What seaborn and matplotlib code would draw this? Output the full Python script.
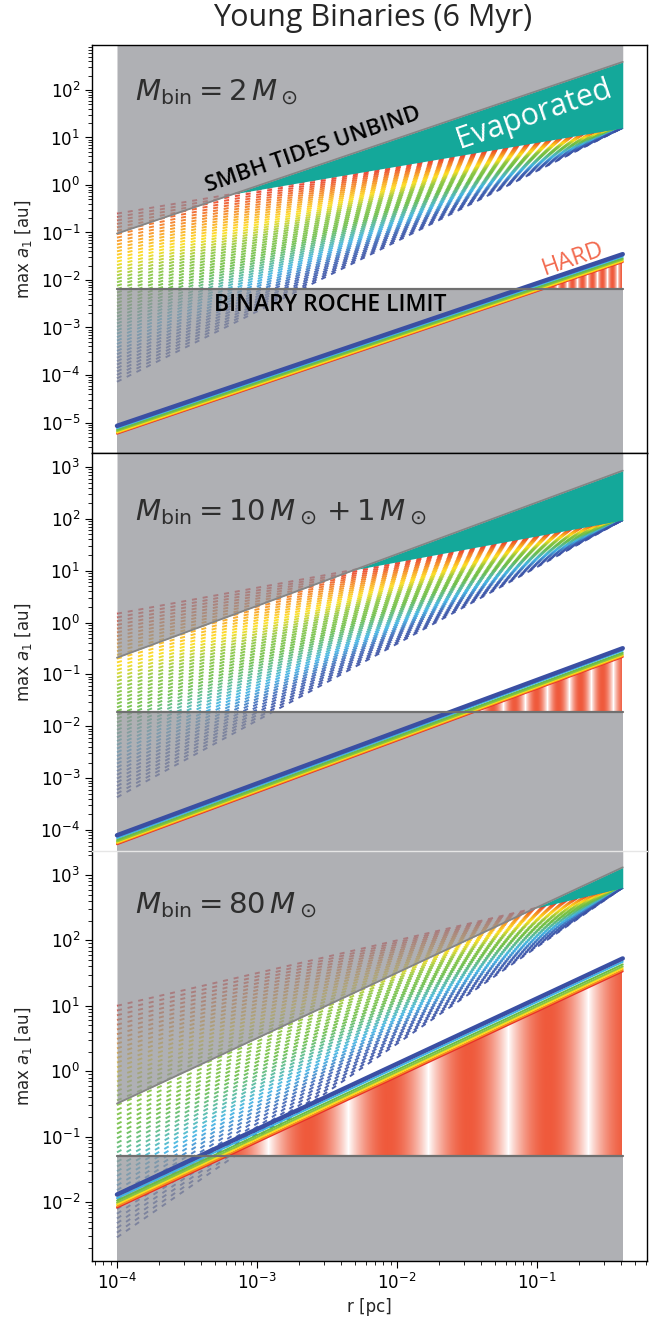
import numpy as np
import pandas as pd
import matplotlib
matplotlib.use("Agg")
import matplotlib.pyplot as plt
import matplotlib.ticker as ticker
from matplotlib import colors
import seaborn as sns

# values
PANEL_LABELS = [
    r"$M_{\rm bin} = 2\,M_\odot$",
    r"$M_{\rm bin} = 10\,M_\odot + 1\,M_\odot$",
    r"$M_{\rm bin} = 80\,M_\odot$",
]
R_MIN = 1e-4
R_MAX = 0.41
# dashed family: log slope of each line (red -> blue), all meet at R_MAX
DASH_SLOPES = [0.50, 0.52, 0.54, 0.56, 0.58, 0.60, 0.62, 0.64, 0.66, 0.68,
               0.70, 0.72, 0.74, 0.76, 0.78, 0.80, 0.82, 0.84, 0.86, 0.88,
               0.90, 0.92, 0.94, 0.96, 0.98, 1.00, 1.02, 1.04, 1.06, 1.08,
               1.10, 1.12, 1.14, 1.16, 1.18, 1.20, 1.22, 1.24, 1.26, 1.28,
               1.30, 1.32, 1.34, 1.36, 1.38, 1.40, 1.42, 1.44, 1.46, 1.48]
DASH_END = [16.0, 95.0, 640.0]
# SMBH tides line at R_MIN / R_MAX
TIDES_LO = [0.095, 0.21, 0.32]
TIDES_HI = [390.0, 850.0, 1310.0]
# binary Roche limit
ROCHE = [6.5e-3, 1.9e-2, 5.1e-2]
# solid bundle (blue -> red) at R_MIN / R_MAX
SOLID_LO = [
    [8.5e-6, 7.6e-6, 7.0e-6, 6.6e-6, 6.2e-6, 6.0e-6, 5.8e-6],
    [7.9e-5, 7.0e-5, 6.4e-5, 6.0e-5, 5.7e-5, 5.5e-5, 5.3e-5],
    [1.3e-2, 1.15e-2, 1.05e-2, 9.8e-3, 9.2e-3, 8.6e-3, 8.2e-3],
]
SOLID_HI = [
    [0.035, 0.031, 0.0287, 0.027, 0.0254, 0.0246, 0.0238],
    [0.32, 0.287, 0.262, 0.246, 0.234, 0.225, 0.217],
    [53.0, 47.0, 43.0, 40.0, 37.7, 35.3, 33.6],
]
SOLID_CPOS = [0.0, 0.25, 0.45, 0.6, 0.72, 0.85, 1.0]
YLIMS = [(10**-5.642, 10**2.947), (10**-4.405, 10**3.27), (10**-2.902, 10**3.367)]
Y_TICKS = [[1e-5, 1e-4, 1e-3, 1e-2, 1e-1, 1e0, 1e1, 1e2],
           [1e-4, 1e-3, 1e-2, 1e-1, 1e0, 1e1, 1e2, 1e3],
           [1e-2, 1e-1, 1e0, 1e1, 1e2, 1e3]]
X_TICKS = [1e-4, 1e-3, 1e-2, 1e-1]
XLIM = (6.63e-5, 0.611)
# stripe pattern of the HARD region (period, phase) in pixels
STRIPES = [(10, 0), (22, 12), (80, 71)]

sns.set_style("ticks")
plt.rcParams["font.family"] = ["DejaVu Sans"]

fan = colors.LinearSegmentedColormap.from_list(
    "fan",
    [(0.0, "#3a4fa3"), (0.12, "#3f63b5"), (0.25, "#3fb4e6"), (0.45, "#6abd45"),
     (0.6, "#8cc63f"), (0.72, "#ffde17"), (0.84, "#f7941d"), (1.0, "#e8302a")],
)
stripe_cmap = colors.LinearSegmentedColormap.from_list("hard", ["#ffffff", "#ef5a3c"])
GRAY = "#919298"
TEAL = "#14a89a"

fig = plt.figure(figsize=(6.6, 13.17), dpi=100)
W, H = 660, 1317
boxes = [(45, 453), (453, 851), (851, 1261)]
axes = []
for top, bot in boxes:
    ax = fig.add_axes([92 / W, 1 - bot / H, 555 / W, (bot - top) / H])
    axes.append(ax)

rgrid = np.geomspace(R_MIN, R_MAX, 800)
n = len(DASH_SLOPES)
dash_colors = [fan(1 - k / (n - 1)) for k in range(n)]
# image columns evenly spaced in r (imshow maps linearly in data)
r_cols = np.linspace(R_MIN, R_MAX, 80000)
px_cols = 140 * np.log10(r_cols / R_MIN)

for i, ax in enumerate(axes):
    ax.set_xscale("log")
    ax.set_yscale("log")
    ylo, yhi = YLIMS[i]

    # dashed family
    rows = []
    for k, s in enumerate(DASH_SLOPES):
        a_lo = DASH_END[i] * (R_MIN / R_MAX) ** s
        rows.append({"r": R_MIN, "a": a_lo, "line": k})
        rows.append({"r": R_MAX, "a": DASH_END[i], "line": k})
    df = pd.DataFrame(rows)
    sns.lineplot(data=df, x="r", y="a", hue="line", palette=dash_colors,
                 legend=False, ax=ax, lw=1.4, linestyle=(0, (2.6, 3.0)),
                 alpha=0.9, zorder=1, estimator=None, sort=False)

    slope_t = np.log(TIDES_HI[i] / TIDES_LO[i]) / np.log(R_MAX / R_MIN)
    tides = TIDES_LO[i] * (rgrid / R_MIN) ** slope_t
    top_dash = DASH_END[i] * (rgrid / R_MAX) ** DASH_SLOPES[0]

    # gray forbidden regions
    ax.fill_between([R_MIN, R_MAX], [TIDES_LO[i], TIDES_HI[i]], [yhi, yhi],
                    color=GRAY, alpha=0.72, lw=0, zorder=2)
    ax.fill_between([R_MIN, R_MAX], [ylo, ylo], [ROCHE[i], ROCHE[i]],
                    color=GRAY, alpha=0.72, lw=0, zorder=2)

    # evaporated
    ax.fill_between(rgrid, top_dash, tides, where=tides > top_dash,
                    interpolate=True, color=TEAL, lw=0, zorder=3)

    # hard region with stripes
    slope_s = np.log(SOLID_HI[i][-1] / SOLID_LO[i][-1]) / np.log(R_MAX / R_MIN)
    low_solid = SOLID_LO[i][-1] * (rgrid / R_MIN) ** slope_s
    hard = ax.fill_between(rgrid, ROCHE[i], low_solid, where=low_solid > ROCHE[i],
                           interpolate=True, facecolor="none", lw=0)
    period, phase = STRIPES[i]
    pattern = np.abs(np.sin(np.pi * (px_cols - phase) / period)) ** 0.9
    im = ax.imshow(pattern[None, :], extent=(R_MIN, R_MAX, ROCHE[i], SOLID_HI[i][-1]),
                   aspect="auto", cmap=stripe_cmap, vmin=0, vmax=1,
                   interpolation="antialiased", zorder=3, origin="lower")
    im.set_clip_path(hard.get_paths()[0], transform=ax.transData)

    # solid bundle, red first so blue sits on top
    for j in range(len(SOLID_LO[i]) - 1, -1, -1):
        lw = 3.2 if j == 0 else 1.4
        sns.lineplot(x=[R_MIN, R_MAX], y=[SOLID_LO[i][j], SOLID_HI[i][j]],
                     color=fan(SOLID_CPOS[j]), lw=lw, ax=ax, zorder=4)

    ax.plot([R_MIN, R_MAX], [TIDES_LO[i], TIDES_HI[i]], color="#858585", lw=1.3, zorder=5)
    ax.plot([R_MIN, R_MAX], [ROCHE[i], ROCHE[i]], color="#707070", lw=1.6, zorder=5)

    ax.set_xlim(*XLIM)
    ax.set_ylim(ylo, yhi)
    ax.yaxis.set_major_locator(ticker.FixedLocator(Y_TICKS[i]))
    ax.yaxis.set_major_formatter(ticker.LogFormatterSciNotation())
    ax.yaxis.set_minor_locator(ticker.LogLocator(base=10, subs=np.arange(2, 10), numticks=30))
    ax.yaxis.set_minor_formatter(ticker.NullFormatter())
    ax.xaxis.set_major_locator(ticker.FixedLocator(X_TICKS))
    ax.xaxis.set_major_formatter(ticker.LogFormatterSciNotation())
    ax.xaxis.set_minor_locator(ticker.LogLocator(base=10, subs=np.arange(2, 10), numticks=30))
    ax.xaxis.set_minor_formatter(ticker.NullFormatter())
    ax.tick_params(axis="both", which="major", labelsize=12, length=5, color="black",
                   labelcolor="black")
    ax.tick_params(axis="both", which="minor", length=3, color="black")
    ax.set_ylabel(r"max $a_1$ [au]", fontsize=12)
    ax.yaxis.set_label_coords(-0.105, 0.5)
    for sp in ax.spines.values():
        sp.set_color("black")
        sp.set_linewidth(1.0)
    if i < 2:
        ax.tick_params(axis="x", which="both", bottom=False, labelbottom=False)
        ax.set_xlabel("")
    ax.text(43 / 555, [0.885, 0.852, 0.868][i], PANEL_LABELS[i], transform=ax.transAxes,
            fontsize=21, color="#2e2e2e", ha="left", va="center", zorder=6)

axes[1].spines["bottom"].set_visible(False)
axes[2].spines["top"].set_color("#e6e6e6")
axes[2].set_xlabel("r [pc]", fontsize=12)

ax = axes[0]
ax.text(0.398, 0.742, "SMBH TIDES UNBIND", transform=ax.transAxes, rotation=19,
        fontsize=16, family="Open Sans", weight="semibold", color="black",
        ha="center", va="center", zorder=6)
ax.text(0.796, 0.830, "Evaporated", transform=ax.transAxes, rotation=19,
        fontsize=22, family="Open Sans", color="white", ha="center", va="center", zorder=6)
ax.text(0.43, 0.363, "BINARY ROCHE LIMIT", transform=ax.transAxes,
        fontsize=16.5, family="Open Sans", weight="semibold", color="black",
        ha="center", va="center", zorder=6)
ax.text(0.867, 0.475, "HARD", transform=ax.transAxes, rotation=19,
        fontsize=17, family="Open Sans", color="#f26a4f", ha="center", va="center", zorder=6)

fig.text(373 / W, 1 - 18 / H, "Young Binaries (6 Myr)", ha="center", va="center",
         fontsize=22, family="Open Sans")

fig.savefig("out.png", dpi=100)
